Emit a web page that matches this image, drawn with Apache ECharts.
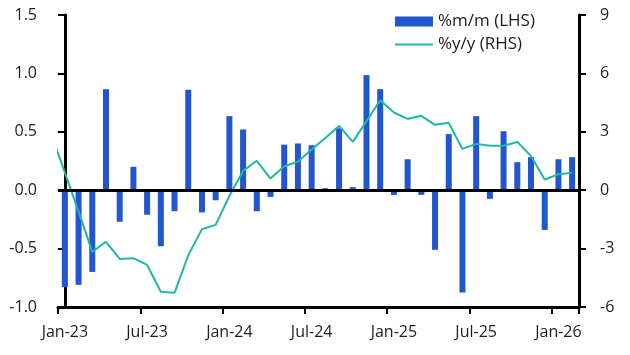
<!DOCTYPE html>
<html><head><meta charset="utf-8">
<script src="https://cdn.jsdelivr.net/npm/echarts@6/dist/echarts.min.js"></script>
<style>html,body{margin:0;padding:0;background:#fff}#c{width:630px;height:355px}</style>
</head><body><div id="c"></div>
<script>
var categories = ['Jan-23','Feb-23','Mar-23','Apr-23','May-23','Jun-23','Jul-23','Aug-23','Sep-23','Oct-23','Nov-23','Dec-23',
'Jan-24','Feb-24','Mar-24','Apr-24','May-24','Jun-24','Jul-24','Aug-24','Sep-24','Oct-24','Nov-24','Dec-24',
'Jan-25','Feb-25','Mar-25','Apr-25','May-25','Jun-25','Jul-25','Aug-25','Sep-25','Oct-25','Nov-25','Dec-25',
'Jan-26','Feb-26'];
var mom = [-0.83,-0.81,-0.70,0.865,-0.27,0.20,-0.21,-0.48,-0.18,0.86,-0.19,-0.086,
0.634,0.52,-0.18,-0.057,0.39,0.40,0.385,0.017,0.53,0.026,0.985,0.865,
-0.04,0.265,-0.04,-0.51,0.48,-0.876,0.634,-0.074,0.505,0.24,0.283,-0.34,
0.265,0.283];
// y/y series; yoyPrev is Dec-22 (just before the axis start)
var yoyPrev = 2.9;
var yoy = [0.9,-1.1,-3.17,-2.65,-3.53,-3.49,-3.84,-5.22,-5.27,-3.34,-2.0,-1.78,
-0.3,0.99,1.51,0.60,1.23,1.46,2.09,2.68,3.30,2.48,3.55,4.62,
3.99,3.66,3.82,3.36,3.46,2.12,2.38,2.28,2.28,2.48,1.75,0.55,
0.82,0.89];
var leftTicks = [-1.0,-0.5,0.0,0.5,1.0,1.5];
var rightTicks = [-6,-3,0,3,6,9];

var lineData = [[-1, yoyPrev]].concat(yoy.map(function(v,i){return [i,v];}));
var font = 'Open Sans';
var txt = '#1e1e1e';
var chart = echarts.init(document.getElementById('c'), null, {renderer:'canvas'});
chart.setOption({
  animation:false,
  grid:{left:58,right:51,top:15,bottom:48},
  legend:{
    left:395, top:13, padding:0, orient:'vertical', itemGap:6, itemWidth:38, itemHeight:10,
    textStyle:{fontFamily:font,fontSize:17,color:txt},
    data:[{name:'%m/m (LHS)',icon:'rect'},{name:'%y/y (RHS)',icon:'path://M0,0 L38,0 L38,2 L0,2 Z'}]
  },
  xAxis:[{
    type:'category', data:categories, boundaryGap:true, position:'bottom',
    axisLine:{onZero:false,lineStyle:{color:'#000',width:3}},
    axisTick:{show:true,interval:5,length:7,lineStyle:{color:'#000',width:2}},
    axisLabel:{interval:5,fontFamily:font,fontSize:16,color:txt,margin:17},
    splitLine:{show:false}
  },{
    type:'value', min:-0.5, max:categories.length-0.5, show:false
  }],
  yAxis:[{
    type:'value', min:leftTicks[0], max:leftTicks[leftTicks.length-1], interval:0.5, position:'left',
    axisLine:{show:true,lineStyle:{color:'#000',width:3}},
    axisTick:{show:true,length:7,lineStyle:{color:'#000',width:2}},
    axisLabel:{fontFamily:font,fontSize:16,color:txt,margin:21,formatter:function(v){return v.toFixed(1);}},
    splitLine:{show:false}
  },{
    type:'value', min:rightTicks[0], max:rightTicks[rightTicks.length-1], interval:3, position:'right',
    axisLine:{show:true,lineStyle:{color:'#000',width:3}},
    axisTick:{show:true,length:7,lineStyle:{color:'#000',width:2}},
    axisLabel:{fontFamily:font,fontSize:16,color:txt,margin:21},
    splitLine:{show:false}
  }],
  series:[{
    name:'%m/m (LHS)', type:'bar', data:mom, xAxisIndex:0, yAxisIndex:0, barWidth:6,
    itemStyle:{color:'#2156CD'},
    markLine:{silent:true,symbol:'none',label:{show:false},lineStyle:{color:'#000',width:3,type:'solid'},data:[{yAxis:0}]}
  },{
    name:'%y/y (RHS)', type:'line', data:lineData, xAxisIndex:1, yAxisIndex:1,
    showSymbol:false, symbol:'none', clip:true,
    lineStyle:{color:'#1DB8A6',width:2}, itemStyle:{color:'#1DB8A6'}, z:3
  }]
});
</script></body></html>
